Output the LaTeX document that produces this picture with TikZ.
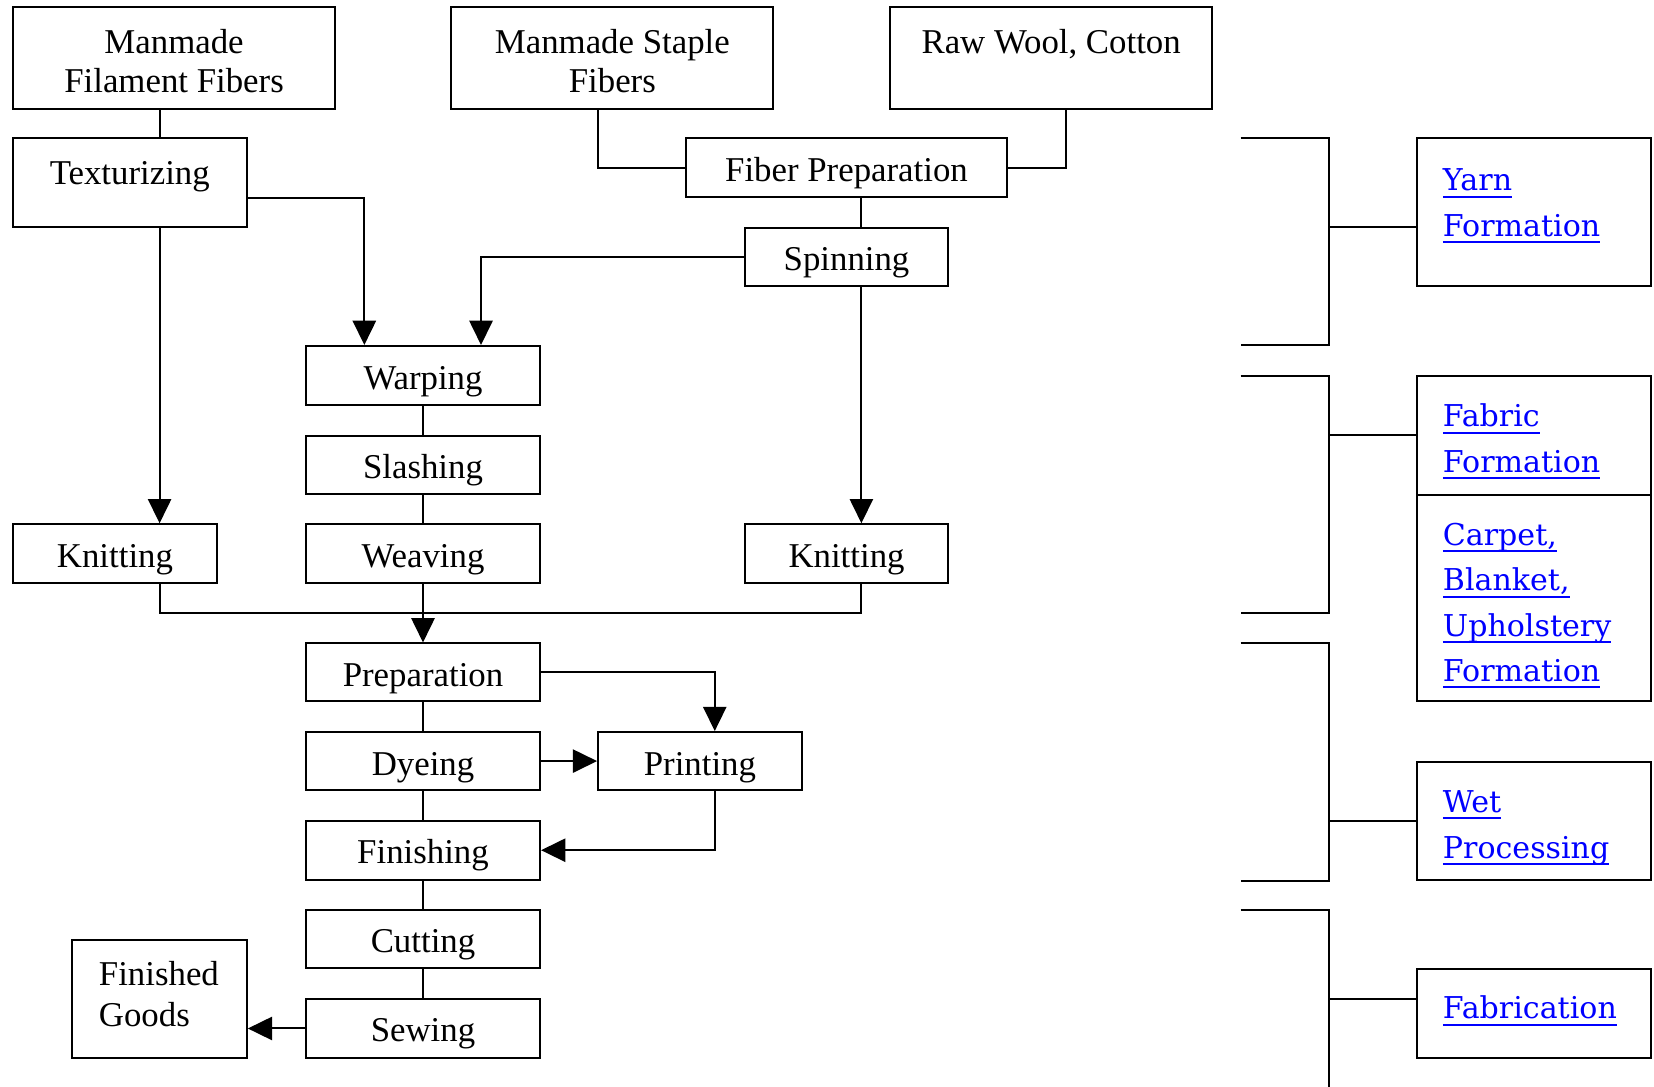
\documentclass[tikz,border=0pt]{standalone}
\usepackage{fontspec}
\setmainfont{Liberation Serif}
\newfontfamily\linkfont{DejaVu Serif}
\usetikzlibrary{arrows.meta}
\definecolor{linkblue}{RGB}{0,0,255}
\newsavebox\lnkbox
% underlined hyperlink-style word
\newcommand\lnk[1]{\sbox\lnkbox{#1}\rlap{\rule[-6.6pt]{\wd\lnkbox}{2pt}}\usebox\lnkbox}

\tikzset{
  box/.style={draw=black, line width=1.9pt, inner sep=0pt},
  lbl/.style={font=\fontsize{33}{38}\selectfont, inner sep=0pt, anchor=base},
  lbll/.style={lbl, anchor=base west},
  lnkt/.style={font=\linkfont\fontsize{28.5}{43}\selectfont, text=linkblue, inner sep=0pt, anchor=base west},
  wire/.style={line width=1.9pt},
  arr/.style={wire, -{Triangle[length=23pt,width=22pt]}},
}

\begin{document}
\begin{tikzpicture}[x=1pt, y=-1pt]
\useasboundingbox (0,0) rectangle (1568,1030);

% ---------- process boxes ----------
\node[box, minimum width=306pt, minimum height=96pt] (mff) at (165,55) {};
\node[box, minimum width=305pt, minimum height=96pt] (msf) at (580.5,55) {};
\node[box, minimum width=305pt, minimum height=96pt] (raw) at (996.5,55) {};
\node[box, minimum width=222pt, minimum height=84pt] (tex) at (123,173) {};
\node[box, minimum width=305pt, minimum height=56pt] (fpr) at (802.5,159) {};
\node[box, minimum width=193pt, minimum height=55pt] (spn) at (802.5,243.5) {};
\node[box, minimum width=222pt, minimum height=56pt] (wrp) at (401,356) {};
\node[box, minimum width=222pt, minimum height=55pt] (sla) at (401,440.5) {};
\node[box, minimum width=222pt, minimum height=56pt] (wea) at (401,525) {};
\node[box, minimum width=194pt, minimum height=56pt] (knl) at (109,525) {};
\node[box, minimum width=193pt, minimum height=56pt] (knr) at (802.5,525) {};
\node[box, minimum width=222pt, minimum height=55pt] (prp) at (401,637.5) {};
\node[box, minimum width=222pt, minimum height=55pt] (dye) at (401,721.5) {};
\node[box, minimum width=193pt, minimum height=55pt] (prt) at (663.5,721.5) {};
\node[box, minimum width=222pt, minimum height=56pt] (fin) at (401,806) {};
\node[box, minimum width=222pt, minimum height=55pt] (cut) at (401,890.5) {};
\node[box, minimum width=222pt, minimum height=56pt] (sew) at (401,975) {};
\node[box, minimum width=166pt, minimum height=112pt] (fg) at (151,947) {};

% ---------- box labels ----------
\node[lbl] (t-mff1) at (165,50.6) {Manmade};
\node[lbl] (t-mff2) at (165,87.5) {Filament Fibers};
\node[lbl] (t-msf1) at (580.5,50.6) {Manmade Staple};
\node[lbl] (t-msf2) at (580.5,87.5) {Fibers};
\node[lbl] (t-raw) at (996.5,50.6) {Raw Wool, Cotton};
\node[lbl] (t-tex) at (123,174.8) {Texturizing};
\node[lbl] (t-fpr) at (802.5,172.2) {Fiber Preparation};
\node[lbl] (t-spn) at (802.5,256.6) {Spinning};
\node[lbl] (t-wrp) at (401,369.7) {Warping};
\node[lbl] (t-sla) at (401,453.5) {Slashing};
\node[lbl] (t-wea) at (401,538.2) {Weaving};
\node[lbl] (t-knl) at (109,538.2) {Knitting};
\node[lbl] (t-knr) at (802.5,538.2) {Knitting};
\node[lbl] (t-prp) at (401,651) {Preparation};
\node[lbl] (t-dye) at (401,734.7) {Dyeing};
\node[lbl] (t-prt) at (663.5,734.7) {Printing};
\node[lbl] (t-fin) at (401,818.5) {Finishing};
\node[lbl] (t-cut) at (401,902.8) {Cutting};
\node[lbl] (t-sew) at (401,987.6) {Sewing};
\node[lbll] (t-fg1) at (93.6,933.8) {Finished};
\node[lbll] (t-fg2) at (93.6,973.3) {Goods};

% ---------- connectors ----------
\draw[wire] ([xshift=-13.7pt]mff.south) -- ([xshift=28.3pt]tex.north);
\draw[arr] ([yshift=-15pt]tex.east) -| ([xshift=-55.6pt]wrp.north);
\draw[arr] ([xshift=28.3pt]tex.south) -- ([xshift=42.3pt]knl.north);
\draw[wire] ([xshift=-13.7pt]msf.south) |- (fpr.west);
\draw[wire] ([xshift=14.4pt]raw.south) |- (fpr.east);
\draw[wire] ([xshift=14.1pt]fpr.south) -- ([xshift=14.1pt]spn.north);
\draw[arr] (spn.west) -| ([xshift=55pt]wrp.north);
\draw[arr] ([xshift=14.1pt]spn.south) -- ([xshift=14.1pt]knr.north);
\draw[wire] (wrp) -- (sla);
\draw[wire] (sla) -- (wea);
\coordinate (merge) at (401,581.5);
\draw[wire] ([xshift=42.3pt]knl.south) |- (merge);
\draw[wire] ([xshift=14.1pt]knr.south) |- (merge);
\draw[arr] (wea.south) -- (prp.north);
\draw[arr] (prp.east) -| ([xshift=14.1pt]prt.north);
\draw[wire] (prp) -- (dye);
\draw[arr] (dye.east) -- (prt.west);
\draw[wire] (dye) -- (fin);
\draw[arr] ([xshift=14.1pt]prt.south) |- (fin.east);
\draw[wire] (fin) -- (cut);
\draw[wire] (cut) -- (sew);
\draw[arr] (sew.west) -- (sew.west -| fg.east);

% ---------- stage boxes ----------
\node[box, minimum width=222pt, minimum height=140pt] (yarn) at (1454,201) {};
\node[box, minimum width=222pt, minimum height=113pt] (fab) at (1454,412.5) {};
\node[box, minimum width=222pt, minimum height=196pt] (crp) at (1454,567) {};
\node[box, minimum width=222pt, minimum height=112pt] (wet) at (1454,778) {};
\node[box, minimum width=222pt, minimum height=84pt] (fbr) at (1454,961) {};

\node[lnkt] (l-yarn1) at (1367.7,181) {\lnk{Yarn}};
\node[lnkt] (l-yarn2) at (1367.7,224) {\lnk{Formation}};
\node[lnkt] (l-fab1) at (1367.7,404.5) {\lnk{Fabric}};
\node[lnkt] (l-fab2) at (1367.7,447.5) {\lnk{Formation}};
\node[lnkt] (l-crp1) at (1367.7,517) {\lnk{Carpet,}};
\node[lnkt] (l-crp2) at (1367.7,560) {\lnk{Blanket,}};
\node[lnkt] (l-crp3) at (1367.7,603) {\lnk{Upholstery}};
\node[lnkt] (l-crp4) at (1367.7,646) {\lnk{Formation}};
\node[lnkt] (l-wet1) at (1367.7,770) {\lnk{Wet}};
\node[lnkt] (l-wet2) at (1367.7,813.7) {\lnk{Processing}};
\node[lnkt] (l-fbr) at (1367.7,966) {\lnk{Fabrication}};

% ---------- brackets ----------
\coordinate (b1) at (1260,215.5);
\coordinate (b2) at (1260,412.5);
\coordinate (b3) at (1260,778);
\coordinate (b4) at (1260,947);
\draw[wire] (1176,131) -| (1260,327.5) -- (1176,327.5);
\draw[wire] (1176,356.5) -| (1260,581) -- (1176,581);
\draw[wire] (1176,610) -| (1260,835) -- (1176,835);
\draw[wire] (1176,862.7) -| (1260,1032);
\draw[wire] (b1) -- (b1 -| yarn.west);
\draw[wire] (b2) -- (b2 -| fab.west);
\draw[wire] (b3) -- (b3 -| wet.west);
\draw[wire] (b4) -- (b4 -| fbr.west);
\end{tikzpicture}
\end{document}
